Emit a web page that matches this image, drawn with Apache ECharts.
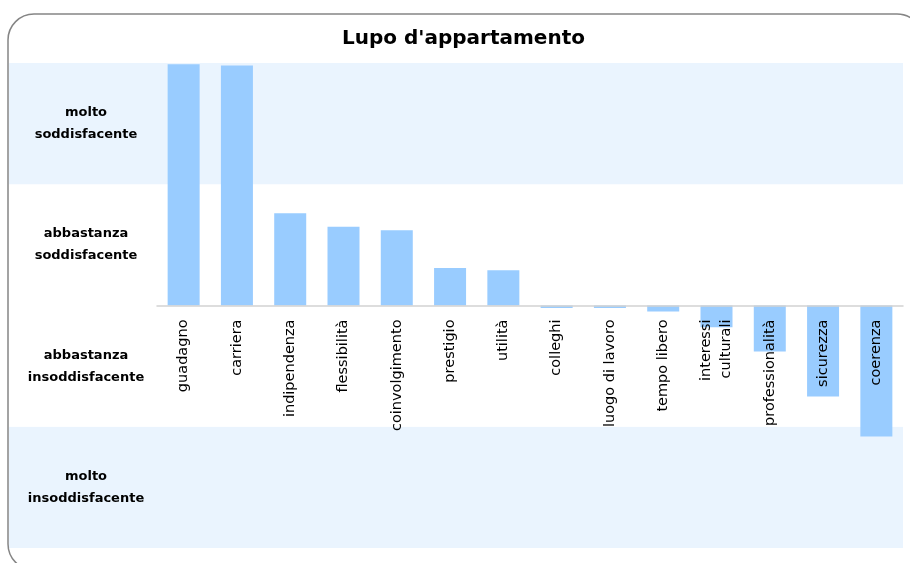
<!DOCTYPE html>
<html>
<head>
<meta charset="utf-8">
<script src="https://cdn.jsdelivr.net/npm/echarts@6/dist/echarts.min.js"></script>
<style>
  html, body { margin: 0; padding: 0; background: #fff; }
  #chart { width: 910px; height: 563px; }
</style>
</head>
<body>
<div id="chart"></div>
<script>
// categorie e punteggi
const categories = [
  'guadagno', 'carriera', 'indipendenza', 'flessibilità', 'coinvolgimento',
  'prestigio', 'utilità', 'colleghi', 'luogo di lavoro', 'tempo libero',
  'interessi\nculturali', 'professionalità', 'sicurezza', 'coerenza'
];
const scores = [1.99, 1.98, 0.76, 0.65, 0.62, 0.31, 0.29, -0.02, -0.02, -0.05, -0.18, -0.38, -0.75, -1.08];
// fasce di giudizio, dal basso verso l'alto
const bandLabels = [
  'molto\ninsoddisfacente',
  'abbastanza\ninsoddisfacente',
  'abbastanza\nsoddisfacente',
  'molto\nsoddisfacente'
];
const bandColors = ['#eaf4fe', '#ffffff', '#ffffff', '#eaf4fe'];
const scaleMin = -2;
const scaleMax = 2;

const myChart = echarts.init(document.getElementById('chart'));

const option = {
  animation: false,
  textStyle: { fontFamily: 'DejaVu Sans' },
  title: {
    text: "Lupo d'appartamento",
    left: 337,
    top: 24,
    textStyle: { fontFamily: 'DejaVu Sans', fontWeight: 'bold', fontSize: 20, color: '#000' }
  },
  graphic: [
    {
      type: 'rect',
      shape: { x: 8, y: 14, width: 915, height: 556, r: 26 },
      style: { fill: 'none', stroke: '#858585', lineWidth: 1.5 },
      z: 10
    }
  ],
  grid: [
    { left: 9, top: 63, width: 148, bottom: 15, outerBoundsMode: 'none' },   // striscia delle etichette
    { left: 157, top: 63, right: 7, bottom: 15, outerBoundsMode: 'none' },   // area barre
    { left: 157, top: 63, right: 7, height: 242.5, outerBoundsMode: 'none' } // asse dello zero
  ],
  xAxis: [
    { gridIndex: 0, type: 'value', show: false },
    {
      gridIndex: 1,
      type: 'category',
      data: categories,
      axisLine: { show: false },
      axisTick: { show: false },
      axisLabel: { show: false }
    },
    {
      gridIndex: 2,
      type: 'category',
      data: categories,
      position: 'bottom',
      axisLine: { show: true, onZero: false, lineStyle: { color: '#d2d2d2', width: 1.5 } },
      axisTick: { show: false },
      axisLabel: {
        rotate: 90,
        margin: 14,
        interval: 0,
        color: '#000',
        fontSize: 14.5,
        lineHeight: 20
      },
      z: 3
    }
  ],
  yAxis: [
    {
      gridIndex: 0,
      type: 'category',
      data: bandLabels,
      axisLine: { show: false },
      axisTick: { show: false },
      axisLabel: { show: false },
      splitLine: { show: false },
      splitArea: { show: true, areaStyle: { color: bandColors } }
    },
    {
      gridIndex: 1,
      type: 'value',
      min: scaleMin,
      max: scaleMax,
      interval: 1,
      axisLine: { show: false },
      axisTick: { show: false },
      axisLabel: { show: false },
      splitLine: { show: false },
      splitArea: { show: true, areaStyle: { color: bandColors } }
    },
    {
      gridIndex: 1,
      type: 'category',
      position: 'left',
      data: bandLabels,
      axisLine: { show: false },
      axisTick: { show: false },
      splitLine: { show: false },
      axisLabel: {
        margin: 71,
        align: 'center',
        color: '#000',
        fontWeight: 'bold',
        fontSize: 13,
        lineHeight: 22
      }
    },
    { gridIndex: 2, type: 'value', min: 0, max: scaleMax, show: false }
  ],
  series: [
    {
      type: 'bar',
      xAxisIndex: 1,
      yAxisIndex: 1,
      data: scores,
      barWidth: 32,
      itemStyle: { color: '#99ccff' },
      z: 1
    }
  ]
};

myChart.setOption(option);
</script>
</body>
</html>
